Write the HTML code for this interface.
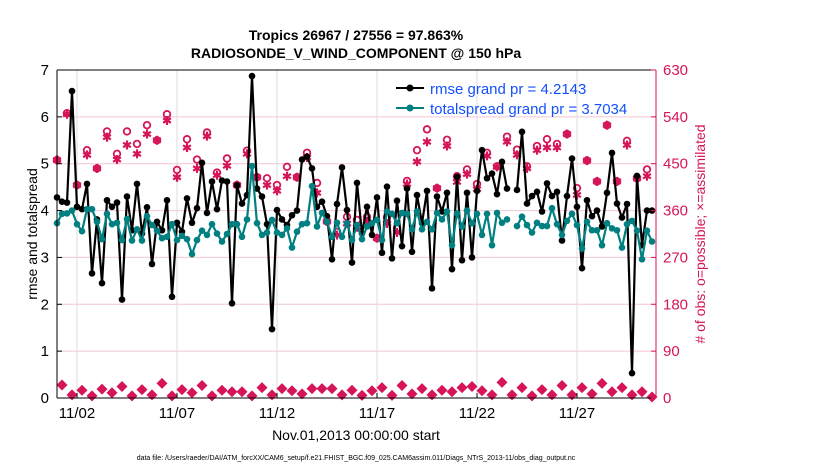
<!DOCTYPE html>
<html><head><meta charset="utf-8"><style>
body{margin:0;background:#fff;}
svg{display:block;font-family:"Liberation Sans",Arial,sans-serif;}
</style></head><body>
<svg id="chart" width="830" height="470" viewBox="0 0 830 470">
<rect width="830" height="470" fill="#fff"/>
<text x="356" y="40" font-size="14" font-weight="bold" text-anchor="middle">Tropics 26967 / 27556 = 97.863%</text>
<text x="356" y="58" font-size="14" font-weight="bold" text-anchor="middle">RADIOSONDE_V_WIND_COMPONENT @ 150 hPa</text>
<g id="grid"></g>
<g id="marks"></g>
<g id="axes"></g>
<text transform="translate(37,234) rotate(-90)" font-size="14" text-anchor="middle">rmse and totalspread</text>
<text transform="translate(705,234) rotate(-90)" font-size="14" text-anchor="middle" fill="#d6145a"># of obs: o=possible; ×=assimilated</text>
<text x="356" y="440" font-size="14" text-anchor="middle">Nov.01,2013 00:00:00 start</text>
<text x="356" y="460" font-size="7" text-anchor="middle">data file: /Users/raeder/DAI/ATM_forcXX/CAM6_setup/f.e21.FHIST_BGC.f09_025.CAM6assim.011/Diags_NTrS_2013-11/obs_diag_output.nc</text>
<g>
<line x1="396" y1="88" x2="424" y2="88" stroke="#000" stroke-width="2"/>
<circle cx="410" cy="88" r="3.5" fill="#000"/>
<text x="430" y="94" font-size="15" fill="#1450ff">rmse grand pr = 4.2143</text>
<line x1="396" y1="108" x2="424" y2="108" stroke="#008080" stroke-width="2"/>
<circle cx="410" cy="108" r="3.5" fill="#008080"/>
<text x="430" y="114" font-size="15" fill="#1450ff">totalspread grand pr = 3.7034</text>
</g>
</svg>
<script>
const rmse=[4.28,4.19,4.17,6.55,4.08,4.03,4.57,2.66,3.81,2.45,4.22,4.08,4.17,2.1,4.3,3.58,4.57,3.51,4.07,2.86,3.76,3.58,4.22,2.16,3.74,3.55,4.26,3.74,4.05,5.02,3.95,4.62,4.03,4.64,4.62,2.02,4.54,4.15,4.33,6.87,4.47,4.3,3.71,1.47,4.01,3.81,3.69,3.9,4.0,5.09,5.15,4.9,4.08,4.19,3.88,2.96,4.14,4.92,4.01,2.89,4.59,3.51,4.08,3.48,4.28,3.1,4.51,2.98,4.21,3.24,4.47,3.12,4.33,3.73,4.42,2.34,4.3,3.98,4.38,2.75,4.72,2.94,4.38,3.0,4.42,5.29,4.69,4.79,4.35,5.04,4.47,null,4.44,5.68,4.15,4.31,4.4,3.98,4.58,4.31,4.4,3.36,4.31,5.11,4.08,2.77,4.22,3.88,4.0,3.66,4.38,5.23,4.15,3.85,4.14,0.53,4.74,3.26,4.0,4.0];
const spread=[3.73,3.93,3.94,4.0,3.71,3.56,4.03,4.03,3.76,3.39,3.93,3.71,3.74,3.37,3.82,3.36,3.6,3.36,3.88,3.69,3.57,3.41,3.44,3.71,3.37,3.46,3.39,3.07,3.37,3.57,3.48,3.71,3.51,3.34,3.5,3.71,3.71,3.44,3.81,4.95,3.73,3.48,3.53,3.8,3.53,3.48,3.62,3.21,3.55,3.71,3.73,4.52,3.66,3.95,3.76,3.44,3.74,3.44,3.73,3.37,3.69,3.39,3.66,3.73,3.8,3.37,3.98,3.93,3.73,3.95,3.93,3.6,3.98,3.6,3.76,3.6,3.95,3.81,3.98,3.26,3.94,3.66,4.0,3.73,3.93,3.48,3.93,3.26,3.95,3.74,3.81,null,3.67,3.87,3.69,3.53,3.74,3.67,3.67,4.05,3.71,3.48,3.78,3.93,3.69,3.19,3.76,3.58,3.58,3.26,3.73,3.62,3.58,3.21,3.71,3.78,3.57,2.96,3.57,3.34];
// obs counts at even indices (00Z/12Z)
const possible=[457,547,409,476,441,512,469,512,488,524,495,545,438,497,458,510,433,460,409,475,424,422,409,444,424,471,413,339,319,348,342,348,307,347,326,417,476,516,403,496,426,439,411,471,445,502,477,445,484,497,488,507,403,456,416,524,416,494,422,439];
const assimilated=[457,545,409,467,441,501,458,486,469,507,495,533,424,481,441,503,428,446,409,469,424,409,398,426,424,462,394,339,313,335,328,339,307,335,318,411,454,492,403,484,415,430,401,465,444,492,467,441,476,481,481,507,390,456,416,524,416,486,422,426];
// obs counts at odd indices (06Z/18Z)
const lowObs=[25,6,15,4,17,10,22,4,16,6,28,4,16,10,24,4,15,12,12,4,20,6,18,14,8,18,18,18,6,15,5,14,20,5,24,8,18,6,15,12,20,22,14,6,30,6,20,4,16,6,24,6,20,8,28,12,20,6,12,2];
const xTickDays=[1,6,11,16,21,26];
const xTickLabels=["11/02","11/07","11/12","11/17","11/22","11/27"];
const yTicks=[0,1,2,3,4,5,6,7];
const yRightTicks=[0,90,180,270,360,450,540,630];

const NS="http://www.w3.org/2000/svg";
const L=57,R=656,T=70,B=398;
const xs=i=>57+5*i;
const xd=d=>57+20*d;
const ys=v=>B-(v/7)*(B-T);
const yo=v=>B-(v/630)*(B-T);
function mk(tag,attrs,parent){const e=document.createElementNS(NS,tag);for(const k in attrs)e.setAttribute(k,attrs[k]);parent.appendChild(e);return e;}
const grid=document.getElementById('grid'),marks=document.getElementById('marks'),axes=document.getElementById('axes');
mk('rect',{x:L,y:T,width:R-L,height:B-T,fill:'#fff'},grid);
yTicks.forEach(v=>{if(v>0&&v<7){const l=mk('line',{x1:L,x2:R,y1:ys(v),y2:ys(v),stroke:'#f2c6d6','stroke-width':1},grid);

}});
xTickDays.forEach(d=>{const l=mk('line',{x1:xd(d),x2:xd(d),y1:T,y2:B,stroke:'#dcdcdc','stroke-width':1},grid);

});
const pink='#d6145a';
function star(cx,cy,g){const r=4.5;[[0,1],[0.87,0.5],[0.87,-0.5]].forEach(([a,b])=>mk('line',{x1:cx-a*r,y1:cy-b*r,x2:cx+a*r,y2:cy+b*r,stroke:pink,'stroke-width':2.2},g));}
possible.forEach((v,k)=>{const i=k*2;const g=mk('g',{},marks);


mk('circle',{cx:xs(i),cy:yo(v),r:3.3,fill:'none',stroke:pink,'stroke-width':1.8},g);
star(xs(i),yo(assimilated[k]),g);});
lowObs.forEach((v,k)=>{const i=k*2+1;const x=xs(i),y=yo(v);
const p=mk('polygon',{points:`${x},${y-5.5} ${x+5.5},${y} ${x},${y+5.5} ${x-5.5},${y}`,fill:pink},marks);

});
function series(arr,color,name){let d='',pen=false;arr.forEach((v,i)=>{if(v==null){pen=false;return;}d+=(pen?'L':'M')+xs(i)+','+ys(v)+' ';pen=true;});
const p=mk('path',{d:d,fill:'none',stroke:color,'stroke-width':2.2,'stroke-linejoin':'round'},marks);


arr.forEach((v,i)=>{if(v==null)return;const c=mk('circle',{cx:xs(i),cy:ys(v),r:3.3,fill:color},marks);

});}
series(rmse,'#000','rmse');
series(spread,'#008080','totalspread');
mk('line',{x1:L,y1:T,x2:L,y2:B,stroke:'#000','stroke-width':1},axes);
mk('line',{x1:L,y1:B,x2:R,y2:B,stroke:'#000','stroke-width':1},axes);
mk('line',{x1:L,y1:T,x2:R,y2:T,stroke:'#000','stroke-width':1},axes);
mk('line',{x1:R,y1:T,x2:R,y2:B,stroke:pink,'stroke-width':1},axes);
yTicks.forEach(v=>{mk('line',{x1:L,x2:L+5,y1:ys(v),y2:ys(v),stroke:'#000'},axes);
const t=mk('text',{x:L-8,y:ys(v)+5,'font-size':15,'text-anchor':'end'},axes);t.textContent=v;

});
yRightTicks.forEach(v=>{mk('line',{x1:R-5,x2:R,y1:yo(v),y2:yo(v),stroke:pink},axes);
const t=mk('text',{x:R+7,y:yo(v)+5,'font-size':15,fill:pink},axes);t.textContent=v;

});
xTickDays.forEach((d,k)=>{mk('line',{x1:xd(d),x2:xd(d),y1:B,y2:B-5,stroke:'#000'},axes);
const t=mk('text',{x:xd(d),y:B+20,'font-size':15,'text-anchor':'middle'},axes);t.textContent=xTickLabels[k];

});
</script>
</body></html>
